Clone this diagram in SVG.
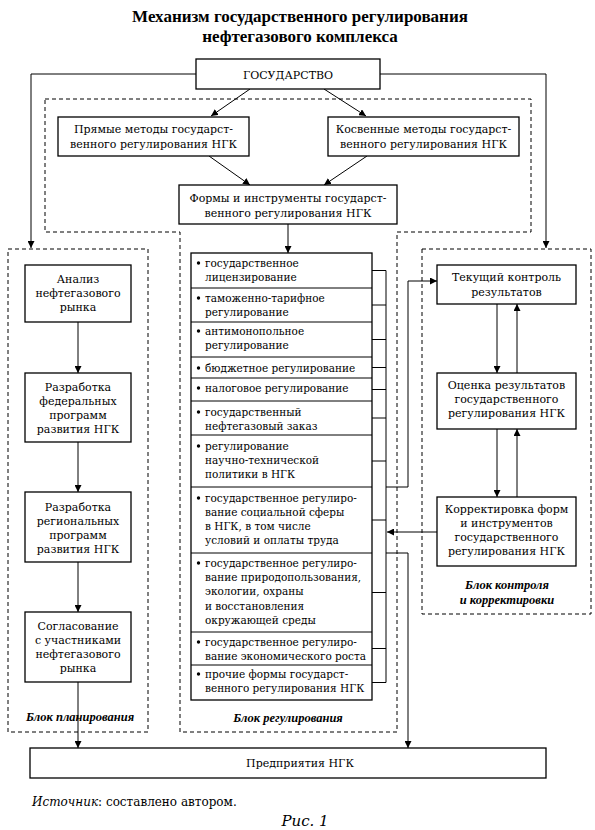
<svg xmlns="http://www.w3.org/2000/svg" width="595" height="830" viewBox="0 0 595 830">
<defs>
<marker id="ah" viewBox="0 0 10 10" refX="10" refY="5" markerWidth="7" markerHeight="7" markerUnits="userSpaceOnUse" orient="auto">
<path d="M0,0 L10,5 L0,10 z" fill="#000"/>
</marker>
<style>
text{font-family:"DejaVu Serif","Liberation Serif",serif;fill:#000}
.t{font-family:"Liberation Serif","DejaVu Serif",serif;font-size:17px;font-weight:bold;text-anchor:middle}
.b{font-size:11px;text-anchor:middle}
.l{font-size:10.5px}
.i{font-family:"Liberation Serif","DejaVu Serif",serif;font-size:12.5px;font-style:italic;font-weight:bold;text-anchor:middle}
.box{fill:#fff;stroke:#000;stroke-width:1.3}
.dash{fill:none;stroke:#000;stroke-width:1;stroke-dasharray:4 3}
.c{fill:none;stroke:#000;stroke-width:1}
.a{fill:none;stroke:#000;stroke-width:1;marker-end:url(#ah)}
</style>
</defs>
<rect width="595" height="830" fill="#fff"/>
<g id="title">
<text class="t" x="300" y="22">Механизм государственного регулирования</text>
<text class="t" x="300" y="42">нефтегазового комплекса</text>
</g>
<g id="blocks">
<path class="dash" d="M45,99 H531 V232 H397 V732 H180 V232 H45 Z"/>
<rect id="planning-block" class="dash" x="8" y="249" width="140" height="483"/>
<rect id="control-block" class="dash" x="422" y="249" width="169" height="365"/>
<text class="i" x="80" y="721">Блок планирования</text>
<text class="i" x="288" y="722">Блок регулирования</text>
<text class="i" x="507" y="589">Блок контроля</text>
<text class="i" x="507" y="604">и корректировки</text>
</g>
<g id="connectors">
<path class="a" d="M196,74 H31 V248"/>
<path class="a" d="M380,74 H546 V248"/>
<path class="a" d="M250,89 L211,116"/>
<path class="a" d="M324,89 L366,116"/>
<path class="a" d="M209,156 L250,185"/>
<path class="a" d="M367,156 L324,185"/>
<path class="a" d="M288,224 V253"/>
<path class="a" d="M78,322 V373"/>
<path class="a" d="M78,442 V492"/>
<path class="a" d="M78,562 V612"/>
<path class="a" d="M78,682 V748"/>
<path class="c" d="M372,270.5 H386 V682.5 H372 M372,305 H386 M372,339.5 H386 M372,367.5 H386 M372,389.5 H386 M372,418 H386 M372,461 H386 M372,520 H386 M372,592.5 H386 M372,648.5 H386"/>
<path class="a" d="M386,487 H408 V281 H437"/>
<path class="a" d="M386,553 H408 V748"/>
<path class="a" d="M497,304 V373"/>
<path class="a" d="M517,373 V304"/>
<path class="a" d="M497,429 V497"/>
<path class="a" d="M517,497 V429"/>
<path class="a" d="M437,532 H387"/>
</g>
<g id="gosudarstvo">
<rect class="box" x="196" y="59" width="184" height="30"/>
<text class="b" x="288" y="78.5" font-size="11.5">ГОСУДАРСТВО</text>
</g>
<g id="direct">
<rect class="box" x="58" y="117" width="191" height="39"/>
<text class="b" x="153.5" y="133">Прямые методы государст-</text>
<text class="b" x="153.5" y="148">венного регулирования НГК</text>
</g>
<g id="indirect">
<rect class="box" x="328" y="117" width="191" height="39"/>
<text class="b" x="423.5" y="133">Косвенные методы государст-</text>
<text class="b" x="423.5" y="148">венного регулирования НГК</text>
</g>
<g id="forms">
<rect class="box" x="179" y="185" width="218" height="39"/>
<text class="b" x="288" y="202">Формы и инструменты государст-</text>
<text class="b" x="288" y="217">венного регулирования НГК</text>
</g>
<g id="analysis">
<rect class="box" x="25" y="265" width="106" height="57"/>
<text class="b" x="78" y="283">Анализ</text>
<text class="b" x="78" y="297">нефтегазового</text>
<text class="b" x="78" y="311">рынка</text>
</g>
<g id="federal">
<rect class="box" x="25" y="373" width="106" height="69"/>
<text class="b" x="78" y="391">Разработка</text>
<text class="b" x="78" y="405">федеральных</text>
<text class="b" x="78" y="419">программ</text>
<text class="b" x="78" y="433">развития НГК</text>
</g>
<g id="regional">
<rect class="box" x="25" y="492" width="106" height="70"/>
<text class="b" x="78" y="511">Разработка</text>
<text class="b" x="78" y="525">региональных</text>
<text class="b" x="78" y="539">программ</text>
<text class="b" x="78" y="553">развития НГК</text>
</g>
<g id="agreement">
<rect class="box" x="25" y="612" width="106" height="70"/>
<text class="b" x="78" y="630">Согласование</text>
<text class="b" x="78" y="644">с участниками</text>
<text class="b" x="78" y="658">нефтегазового</text>
<text class="b" x="78" y="672">рынка</text>
</g>
<g id="instruments">
<rect class="box" x="191" y="253" width="181" height="447"/>
<path class="c" stroke-width="1.3" d="M191,288 H372 M191,322 H372 M191,357 H372 M191,378 H372 M191,401 H372 M191,435 H372 M191,487 H372 M191,553 H372 M191,632 H372 M191,665 H372"/>
<g fill="#000">
<circle cx="198.5" cy="263" r="1.7"/><circle cx="198.5" cy="298" r="1.7"/><circle cx="198.5" cy="331" r="1.7"/><circle cx="198.5" cy="368" r="1.7"/><circle cx="198.5" cy="388" r="1.7"/><circle cx="198.5" cy="412" r="1.7"/><circle cx="198.5" cy="446" r="1.7"/><circle cx="198.5" cy="498" r="1.7"/><circle cx="198.5" cy="563" r="1.7"/><circle cx="198.5" cy="642" r="1.7"/><circle cx="198.5" cy="674" r="1.7"/>
</g>
<text class="l" x="205" y="267">государственное</text>
<text class="l" x="205" y="281">лицензирование</text>
<text class="l" x="205" y="302">таможенно-тарифное</text>
<text class="l" x="205" y="316">регулирование</text>
<text class="l" x="205" y="335">антимонопольное</text>
<text class="l" x="205" y="349">регулирование</text>
<text class="l" x="205" y="372">бюджетное регулирование</text>
<text class="l" x="205" y="392">налоговое регулирование</text>
<text class="l" x="205" y="416">государственный</text>
<text class="l" x="205" y="430">нефтегазовый заказ</text>
<text class="l" x="205" y="450">регулирование</text>
<text class="l" x="205" y="464">научно-технической</text>
<text class="l" x="205" y="478">политики в НГК</text>
<text class="l" x="205" y="502">государственное регулиро-</text>
<text class="l" x="205" y="516">вание социальной сферы</text>
<text class="l" x="205" y="530">в НГК, в том числе</text>
<text class="l" x="205" y="544">условий и оплаты труда</text>
<text class="l" x="205" y="567">государственное регулиро-</text>
<text class="l" x="205" y="581">вание природопользования,</text>
<text class="l" x="205" y="595">экологии, охраны</text>
<text class="l" x="205" y="610">и  восстановления</text>
<text class="l" x="205" y="624">окружающей среды</text>
<text class="l" x="205" y="646">государственное регулиро-</text>
<text class="l" x="205" y="660">вание экономического роста</text>
<text class="l" x="205" y="678">прочие формы государст-</text>
<text class="l" x="205" y="692">венного регулирования НГК</text>
</g>
<g id="current-control">
<rect class="box" x="437" y="265" width="139" height="39"/>
<text class="b" x="506.5" y="281">Текущий контроль</text>
<text class="b" x="506.5" y="296">результатов</text>
</g>
<g id="evaluation">
<rect class="box" x="437" y="373" width="139" height="56"/>
<text class="b" x="506.5" y="389">Оценка результатов</text>
<text class="b" x="506.5" y="403">государственного</text>
<text class="b" x="506.5" y="417">регулирования НГК</text>
</g>
<g id="correction">
<rect class="box" x="437" y="497" width="139" height="69"/>
<text class="b" x="506.5" y="513">Корректировка форм</text>
<text class="b" x="506.5" y="527">и  инструментов</text>
<text class="b" x="506.5" y="541">государственного</text>
<text class="b" x="506.5" y="555">регулирования НГК</text>
</g>
<g id="enterprises">
<rect class="box" x="30" y="748" width="516" height="30"/>
<text class="b" x="300" y="767" font-size="11.5">Предприятия НГК</text>
</g>
<g id="footer">
<text x="32" y="806" font-size="12"><tspan font-style="italic">Источник</tspan>: составлено автором.</text>
<text x="305" y="826" font-size="15" font-style="italic" text-anchor="middle">Рис. 1</text>
</g>
</svg>
